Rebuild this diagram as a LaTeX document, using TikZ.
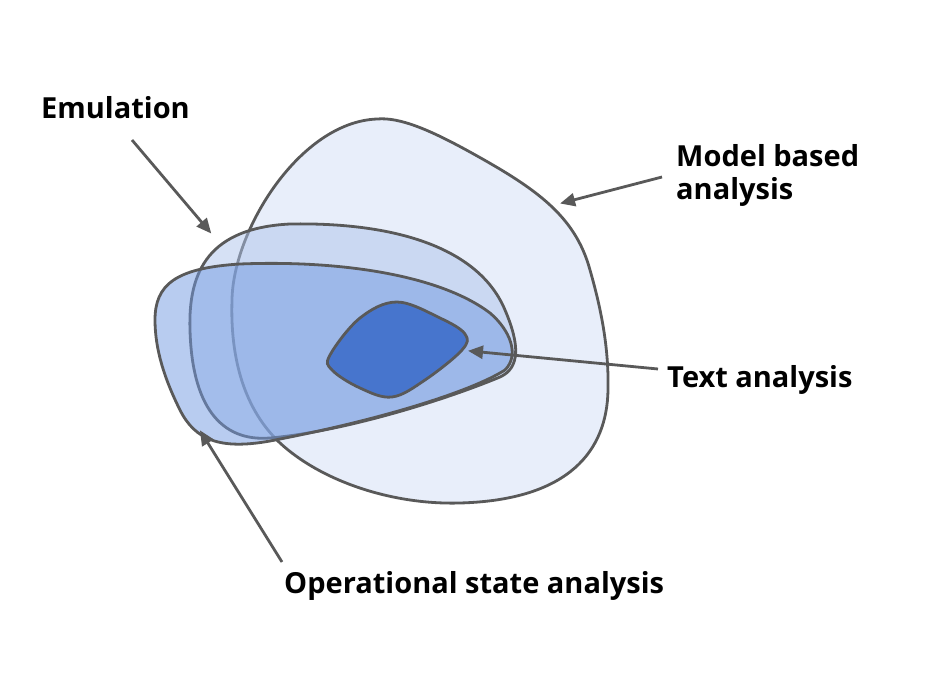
\documentclass[tikz,border=0pt]{standalone}
\usepackage{fontspec}
\setmainfont{Open Sans}
\usetikzlibrary{arrows.meta}
\definecolor{edge}{HTML}{595959}
\definecolor{modelfill}{HTML}{E8EEFA}
\definecolor{emufill}{HTML}{AEC4EC}
\definecolor{opfill}{HTML}{7199E1}
\definecolor{textfill}{HTML}{4775CD}
\tikzset{
  blob/.style={draw=edge, line width=2.8pt, line join=round},
  lbl/.style={font=\fontsize{29}{33}\selectfont\bfseries, text=black, anchor=base west, inner sep=0pt, align=left},
  pointer/.style={draw=edge, line width=2.8pt, -{Triangle[length=15pt,width=13pt]}, shorten >=-2pt}
}
\begin{document}
\begin{tikzpicture}[x=1pt,y=-1pt]
\useasboundingbox (0,0) rectangle (952,692);
% Model based analysis
\draw[blob, fill=modelfill] (377,119)
  .. controls (400,117) and (430,130) .. (470,152)
  .. controls (535,188) and (575,215) .. (590,270)
  .. controls (600,305) and (609,345) .. (608,390)
  .. controls (607,450) and (570,500) .. (460,503)
  .. controls (390,505) and (320,480) .. (280,443)
  .. controls (245,410) and (230,360) .. (232,300)
  .. controls (233,230) and (300,122) .. (377,119) -- cycle;
% Emulation
\draw[blob, fill=emufill, fill opacity=0.5] (190,330)
  .. controls (188,270) and (210,228) .. (290,224)
  .. controls (400,222) and (480,250) .. (505,310)
  .. controls (520,345) and (520,368) .. (500,377)
  .. controls (440,402) and (340,432) .. (270,438)
  .. controls (220,442) and (192,405) .. (190,330) -- cycle;
% Operational state analysis
\draw[blob, fill=opfill, fill opacity=0.5] (155,320)
  .. controls (155,285) and (175,268) .. (240,264)
  .. controls (340,260) and (440,275) .. (490,313)
  .. controls (510,330) and (520,355) .. (505,370)
  .. controls (470,392) and (380,420) .. (270,441)
  .. controls (220,450) and (195,440) .. (180,410)
  .. controls (165,380) and (155,350) .. (155,320) -- cycle;
% Text analysis
\draw[blob, fill=textfill] plot[smooth cycle, tension=0.6] coordinates {
  (397,302) (440,318) (465,334) (462,350) (425,380) (392,397) (360,388)
  (332,370) (330,355) (360,318)};
% labels
\node[lbl] (emu) at (41,119) {Emulation};
\node[lbl] (model) at (676,200) {Model based\\analysis};
\node[lbl] (text) at (667,387) {Text analysis};
\node[lbl] (op) at (284,593) {Operational state analysis};
% arrow ends
\coordinate (emuT) at (132,140);
\coordinate (emuH) at (210,232);
\coordinate (modT) at (662,177);
\coordinate (modH) at (562,203);
\coordinate (txtT) at (658,369);
\coordinate (txtH) at (470,351);
\coordinate (opT) at (282,562);
\coordinate (opH) at (201,432);
\draw[pointer] (emuT) -- (emuH);
\draw[pointer] (modT) -- (modH);
\draw[pointer] (txtT) -- (txtH);
\draw[pointer] (opT) -- (opH);
\end{tikzpicture}
\end{document}
